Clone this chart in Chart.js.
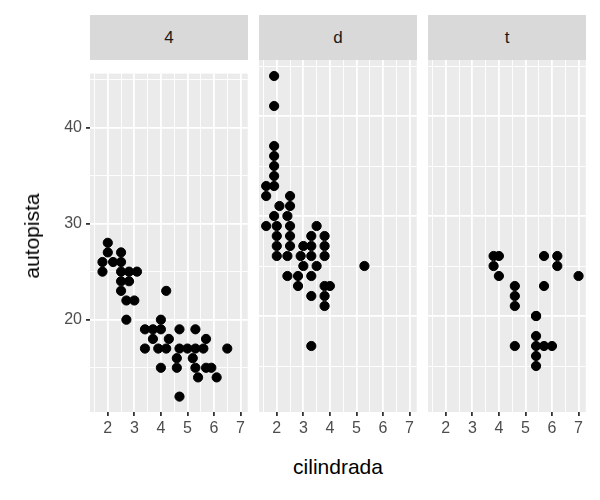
<!DOCTYPE html>
<html>
<head>
<meta charset="utf-8">
<script src="https://cdn.jsdelivr.net/npm/chart.js@4"></script>
<style>
  body { margin: 0; background: #fff; font-family: Arial, "Liberation Sans", sans-serif; }
  .wrap { position: relative; width: 600px; height: 500px; }
  .strip { position: absolute; top: 15px; height: 45px; background: #d9d9d9; color: #1a1a1a;
           font-size: 17px; line-height: 45px; text-align: center; }
  canvas { position: absolute; }
  .ytitle { position: absolute; left: 32px; top: 236px; transform: translate(-50%, -50%) rotate(-90deg);
            font-size: 21px; white-space: nowrap; }
  .xtitle { position: absolute; left: 338px; top: 467px; transform: translate(-50%, -50%); font-size: 21px; }
</style>
</head>
<body>
<div class="wrap">
  <div class="strip" style="left:90px;width:158px">4</div>
  <div class="strip" style="left:259px;width:158px">d</div>
  <div class="strip" style="left:428px;width:158px">t</div>
  <canvas id="c4" style="left:40px;top:60px" width="208" height="390"></canvas>
  <canvas id="cd" style="left:259px;top:60px" width="158" height="390"></canvas>
  <canvas id="ct" style="left:428px;top:60px" width="158" height="390"></canvas>
  <div class="ytitle">autopista</div>
  <div class="xtitle">cilindrada</div>
</div>
<script>
// panel "4"
const displ4 = [2.0,2.0,2.5,1.8,2.2,2.5,1.8,2.5,2.8,3.1,2.5,2.8,2.5,4.2,2.7,3.0,2.7,4.0,3.4,3.7,4.0,4.7,5.3,3.7,4.3,5.7,3.4,3.9,4.2,4.7,5.0,5.3,5.6,6.5,4.6,5.2,4.0,4.6,5.3,5.7,5.9,5.4,6.1,4.7];
const hwy4   = [28,27,27,26,26,26,25,25,25,25,24,24,23,23,22,22,20,20,19,19,19,19,19,18,18,18,17,17,17,17,17,17,17,17,16,16,15,15,15,15,15,14,14,12];
// panel "d"
const displD = [1.9,1.9,1.9,1.9,1.9,1.9,1.6,1.9,1.6,2.5,2.1,2.5,1.9,2.4,1.6,2.0,2.5,3.5,2.0,2.5,3.3,3.8,2.0,2.5,3.0,3.3,3.8,2.0,2.4,2.9,3.3,3.8,3.0,3.5,5.3,2.4,2.8,3.3,2.8,3.8,4.0,3.3,3.8,3.8,3.3];
const hwyD   = [44,41,37,36,35,34,33,33,32,32,31,31,30,30,29,29,29,29,28,28,28,28,27,27,27,27,27,26,26,26,26,26,25,25,25,24,24,24,23,23,23,22,22,21,17];
// panel "t"
const displT = [3.8,4.0,5.7,6.2,3.8,6.2,4.0,7.0,4.6,5.7,4.6,4.6,5.4,5.4,5.4,4.6,5.4,5.7,6.0,5.4,5.4];
const hwyT   = [26,26,26,26,25,25,24,24,23,23,22,21,20,20,18,17,17,17,17,16,15];

const xTicks = [1.5,2,2.5,3,3.5,4,4.5,5,5.5,6,6.5,7];
const yTicks = [15,20,25,30,35,40,45];
const yLabels = [20,30,40];

const panelBg = {
  id: "panelBg",
  beforeDraw(chart) {
    const a = chart.chartArea, c = chart.ctx;
    c.save(); c.fillStyle = "#ebebeb";
    c.fillRect(a.left, a.top, a.right - a.left, a.bottom - a.top);
    c.restore();
  }
};

function makePanel(id, xs, ys, showY) {
  const pts = xs.map((x, i) => ({ x: x, y: ys[i] }));
  return new Chart(document.getElementById(id), {
    type: "scatter",
    data: { datasets: [{ data: pts, backgroundColor: "#000", borderColor: "#000", pointRadius: 4.6 }] },
    plugins: [panelBg],
    options: {
      responsive: false,
      animation: false,
      layout: { autoPadding: false, padding: 0 },
      plugins: { legend: { display: false }, tooltip: { enabled: false } },
      scales: {
        x: {
          type: "linear", min: 1.33, max: 7.27,
          afterBuildTicks: (s) => { s.ticks = xTicks.map((v) => ({ value: v })); },
          afterFit: (s) => { s.height = 38; },
          border: { display: false },
          grid: {
            color: "#ffffff",
            lineWidth: (c) => (c.tick && Number.isInteger(c.tick.value) ? 1.8 : 0.9),
            tickColor: (c) => (c.tick && Number.isInteger(c.tick.value) ? "#333333" : "rgba(0,0,0,0)"),
            tickLength: 4
          },
          ticks: {
            color: "#4d4d4d", font: { size: 16 }, padding: 3, maxRotation: 0, autoSkip: false,
            callback: (v) => (Number.isInteger(v) ? String(v) : "")
          }
        },
        y: {
          type: "linear", min: 10.4, max: 45.6,
          afterBuildTicks: (s) => { s.ticks = yTicks.map((v) => ({ value: v })); },
          afterFit: (s) => { s.width = showY ? 50 : 0; },
          border: { display: false },
          grid: {
            color: "#ffffff",
            lineWidth: (c) => (c.tick && c.tick.value % 10 === 0 ? 1.8 : 0.9),
            tickColor: (c) => (showY && c.tick && c.tick.value % 10 === 0 ? "#333333" : "rgba(0,0,0,0)"),
            tickLength: 4
          },
          ticks: {
            display: showY, color: "#4d4d4d", font: { size: 16 }, padding: 4,
            callback: (v) => (yLabels.includes(v) ? String(v) : "")
          }
        }
      }
    }
  });
}

makePanel("c4", displ4, hwy4, true);
makePanel("cd", displD, hwyD, false);
makePanel("ct", displT, hwyT, false);
</script>
</body>
</html>
